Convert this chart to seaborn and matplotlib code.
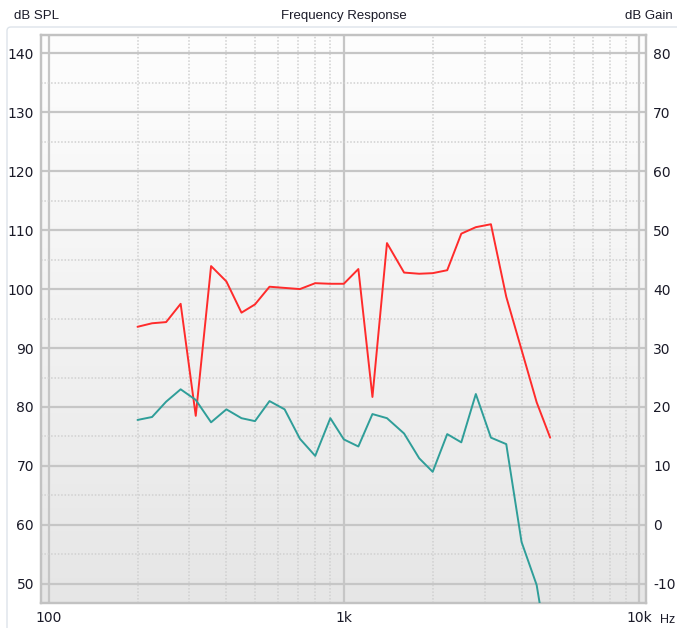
import numpy as np
import pandas as pd
import matplotlib
matplotlib.use("Agg")
import matplotlib.pyplot as plt
import seaborn as sns
from matplotlib.ticker import FixedLocator, FixedFormatter, NullFormatter
from matplotlib.patches import FancyBboxPatch

# ---- data ----
freqs = [200, 224, 250, 280, 315, 355, 400, 450, 500, 560, 630, 710, 800, 900,
         1000, 1120, 1250, 1400, 1600, 1800, 2000, 2240, 2500, 2800, 3150, 3550,
         4000, 4500, 5000]
spl = [93.6, 94.2, 94.4, 97.5, 78.5, 103.9, 101.3, 96.0, 97.4, 100.4, 100.2, 100.0,
       101.0, 100.9, 100.9, 103.4, 81.7, 107.8, 102.8, 102.6, 102.7, 103.2, 109.4,
       110.5, 111.0, 98.7, 89.7, 80.8, 74.8]
gain = [17.8, 18.3, 20.9, 23.0, 21.2, 17.4, 19.6, 18.1, 17.6, 21.0, 19.6, 14.6,
        11.7, 18.1, 14.5, 13.3, 18.8, 18.1, 15.5, 11.3, 9.0, 15.4, 14.0, 22.2,
        14.8, 13.7, -2.9, -10.2, -24.0]
left_ticks = [50, 60, 70, 80, 90, 100, 110, 120, 130, 140]
right_ticks = [-10, 0, 10, 20, 30, 40, 50, 60, 70, 80]
x_ticks = [100, 1000, 10000]
x_labels = ["100", "1k", "10k"]
offset = 60  # dB SPL - dB Gain

df = pd.DataFrame({"freq": freqs, "spl": spl, "gain": gain})

sns.set_style("white")
plt.rcParams['font.family'] = ['DejaVu Sans']
plt.rcParams['axes.unicode_minus'] = False

W, H = 677, 628
fig = plt.figure(figsize=(W / 100, H / 100), dpi=100)
fig.patch.set_facecolor("white")

L, R, T, B = 41, 646, 35, 602.7
ax = fig.add_axes([L / W, 1 - B / H, (R - L) / W, (B - T) / H])
ax.set_xscale("log")
ax.set_xlim(94.2, 10560)
ax.set_ylim(46.8, 143.1)

# gradient background (white at top, light grey at bottom)
grad = np.linspace(0, 1, 256).reshape(-1, 1)
cmap = matplotlib.colors.LinearSegmentedColormap.from_list("bg", ["#fefefe", "#e6e6e6"])
ax.imshow(grad, aspect="auto", cmap=cmap, extent=[0, 1, 0, 1], origin="upper",
          transform=ax.transAxes, zorder=0)

sns.lineplot(data=df, x="freq", y="spl", ax=ax, color="#ff2b2b", linewidth=1.4,
             zorder=3, legend=False)

ax2 = ax.twinx()
sns.lineplot(data=df, x="freq", y="gain", ax=ax2, color="#2f9e99", linewidth=1.4,
             zorder=3, legend=False)
ax2.set_xscale("log")
ax2.set_xlim(94.2, 10560)
ax2.set_ylim(46.8 - offset, 143.1 - offset)
ax2.yaxis.set_major_locator(FixedLocator(right_ticks))
ax2.yaxis.set_major_formatter(FixedFormatter([str(t) for t in right_ticks]))

ax.set_xlim(94.2, 10560)
ax.set_ylim(46.8, 143.1)
ax.xaxis.set_major_locator(FixedLocator(x_ticks))
ax.xaxis.set_major_formatter(FixedFormatter(x_labels))
minor_x = [m * d for d in (100, 1000) for m in range(2, 10)]
ax.xaxis.set_minor_locator(FixedLocator(minor_x))
ax.xaxis.set_minor_formatter(NullFormatter())
ax.yaxis.set_major_locator(FixedLocator(left_ticks))
ax.yaxis.set_major_formatter(FixedFormatter([str(t) for t in left_ticks]))
ax.yaxis.set_minor_locator(FixedLocator([t + 5 for t in left_ticks[:-1]]))
ax.yaxis.set_minor_formatter(NullFormatter())

ax.grid(True, which="major", color="#c6c6c6", linewidth=1.6, linestyle="-", zorder=1)
ax.grid(True, which="minor", color="#d0d0d0", linewidth=1.1, linestyle=(0, (1, 1.2)), zorder=1)
ax.set_axisbelow(True)

lab_col = "#1a1a28"
for a in (ax, ax2):
    a.set_xlabel("")
    a.set_ylabel("")
    a.tick_params(which="both", length=0, labelsize=10, labelcolor=lab_col)
    for s in a.spines.values():
        s.set_color("#c2c2c2")
        s.set_linewidth(1.6)
ax.tick_params(axis="y", pad=5)
ax.tick_params(axis="x", pad=6)
ax2.tick_params(axis="y", pad=5)
ax2.grid(False)

# titles
tf = ['Liberation Sans', 'DejaVu Sans']
fig.text(14 / W, 1 - 16 / H, "dB SPL", ha="left", va="center", fontsize=9.5,
         color=lab_col, family=tf)
fig.text(344 / W, 1 - 16 / H, "Frequency Response", ha="center", va="center",
         fontsize=9.5, color=lab_col, family=tf)
fig.text(673 / W, 1 - 16 / H, "dB Gain", ha="right", va="center", fontsize=9.5,
         color=lab_col, family=tf)
fig.text(668 / W, 1 - 620 / H, "Hz", ha="center", va="center", fontsize=9,
         color=lab_col, family=tf)

# faint panel border
panel = FancyBboxPatch((7 / W, -0.1), 1.0, 1 - 27 / H + 0.1,
                       boxstyle="round,pad=0,rounding_size=0.006",
                       transform=fig.transFigure, facecolor="none",
                       edgecolor="#dde3ea", linewidth=1.0, zorder=-1)
fig.patches.append(panel)

fig.savefig("out.png", dpi=100)
